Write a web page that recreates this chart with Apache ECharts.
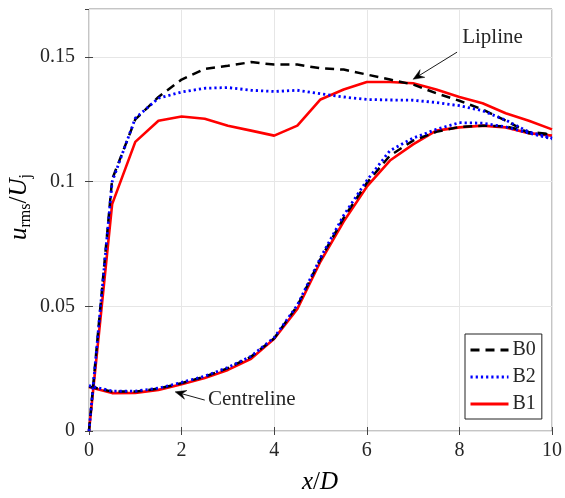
<!DOCTYPE html>
<html><head><meta charset="utf-8">
<script src="https://cdn.jsdelivr.net/npm/echarts@6/dist/echarts.min.js"></script>
<style>html,body{margin:0;padding:0;background:#fff}#c{width:565px;height:498px}</style>
</head><body><div id="c"></div>
<script>
// ---- data ----
const xs = [0,0.5,1,1.5,2,2.5,3,3.5,4,4.5,5,5.5,6,6.5,7,7.5,8,8.5,9,9.5,10];
const b0Lip = [0,0.101,0.125,0.134,0.141,0.1453,0.1465,0.148,0.147,0.147,0.1455,0.145,0.143,0.141,0.139,0.1355,0.1325,0.129,0.1245,0.1195,0.119];
const b2Lip = [0,0.100,0.1255,0.1335,0.136,0.1375,0.1378,0.1367,0.1362,0.1367,0.1353,0.134,0.133,0.1328,0.1327,0.1318,0.1305,0.1285,0.1247,0.12,0.1175];
const b1Lip = [0,0.091,0.116,0.1245,0.1262,0.1253,0.1225,0.1205,0.1185,0.1225,0.133,0.137,0.14,0.14,0.1395,0.137,0.134,0.1315,0.1275,0.1245,0.121];
const b0Cen = [0.0178,0.0158,0.0158,0.017,0.0192,0.0218,0.0252,0.0298,0.0372,0.0502,0.069,0.0855,0.0995,0.1105,0.1165,0.12,0.122,0.1225,0.1222,0.12,0.119];
const b2Cen = [0.0182,0.016,0.016,0.0172,0.0195,0.022,0.0255,0.030,0.0375,0.0505,0.0695,0.0865,0.1005,0.1125,0.1175,0.121,0.1237,0.1235,0.122,0.1195,0.1172];
const b1Cen = [0.0177,0.0152,0.0153,0.0165,0.0188,0.0213,0.0245,0.029,0.037,0.049,0.068,0.084,0.098,0.1085,0.115,0.1205,0.1218,0.1225,0.1218,0.1195,0.1185];
const legendNames = ['B0','B2','B1'];
const xTicks = [0,2,4,6,8,10];
const yTicks = [0,0.05,0.1,0.15];

const pairs = (ys) => xs.map((x,i)=>[x, ys[i]]);
const FONT = '"Liberation Serif", "Times New Roman", serif';
const TXT = '#262626';

const styles = {
  B0: {color:'#000000', type:[9,6], width:2.5},
  B2: {color:'#0000ff', type:[2.2,3], width:2.8},
  B1: {color:'#ff0000', type:'solid', width:2.6}
};
function mk(name, ys, z){
  return {name, type:'line', data:pairs(ys), showSymbol:false, symbol:'none', z,
    lineStyle:styles[name], itemStyle:{color:styles[name].color}, animation:false};
}

const chart = echarts.init(document.getElementById('c'), null, {renderer:'canvas'});
const axisCommon = {
  axisLine:{show:false},
  axisTick:{show:true, inside:true, length:4, lineStyle:{color:'#444', width:1}},
  splitLine:{show:true, lineStyle:{color:'#e6e6e6', width:1}},
  axisLabel:{fontFamily:FONT, fontSize:20, color:TXT}
};
chart.setOption({
  animation:false,
  grid:{left:89, top:9, right:13, bottom:67, show:true, borderColor:'#8a8a8a', borderWidth:1, backgroundColor:'transparent'},
  xAxis:[
    Object.assign({}, axisCommon, {type:'value', min:0, max:10, interval:2,
      axisLabel:Object.assign({}, axisCommon.axisLabel, {margin:10})}),
    {type:'value', position:'top', min:0, max:10, interval:2, axisLine:{show:false}, axisLabel:{show:false},
      splitLine:{show:false}, axisTick:{show:true, inside:true, length:4, lineStyle:{color:'#444'}}}
  ],
  yAxis:[
    Object.assign({}, axisCommon, {type:'value', min:0, max:0.1693, interval:0.05,
      axisLabel:Object.assign({}, axisCommon.axisLabel, {margin:14, showMaxLabel:false,
        formatter:(v)=> yTicks.some(t=>Math.abs(t-v)<1e-9) ? String(+v.toFixed(2)) : ''})}),
    {type:'value', position:'right', min:0, max:0.1693, interval:0.05, axisLine:{show:false}, axisLabel:{show:false},
      splitLine:{show:false}, axisTick:{show:true, inside:true, length:4, lineStyle:{color:'#444'}}}
  ],
  legend:{
    data:legendNames, orient:'vertical', left:465, top:334,
    backgroundColor:'#fff', borderColor:'#222', borderWidth:1, borderRadius:0,
    padding:[6,6,5,4], itemGap:7, itemWidth:38, itemHeight:14,
    itemStyle:{opacity:0},
    lineStyle:{width:3},
    textStyle:{fontFamily:FONT, fontSize:20, color:TXT, padding:[0,0,0,-1]}
  },
  series:[
    mk('B1', b1Lip, 2), mk('B1', b1Cen, 2),
    mk('B0', b0Lip, 3), mk('B0', b0Cen, 3),
    mk('B2', b2Lip, 4), mk('B2', b2Cen, 4)
  ]
});

// annotations placed in data coordinates
function P(x,y){ return chart.convertToPixel({xAxisIndex:0, yAxisIndex:0}, [x,y]); }
function arrow(from, to){
  const a = P(from[0],from[1]), b = P(to[0],to[1]);
  const dx=b[0]-a[0], dy=b[1]-a[1], L=Math.hypot(dx,dy), ux=dx/L, uy=dy/L;
  const px=-uy, py=ux, h=11, w=4.5, n=7;
  const base=[b[0]-ux*h, b[1]-uy*h], notch=[b[0]-ux*n, b[1]-uy*n];
  return [
    {type:'line', shape:{x1:a[0],y1:a[1],x2:notch[0],y2:notch[1]}, style:{stroke:'#000', lineWidth:0.9}, z:50},
    {type:'polygon', shape:{points:[b,[base[0]+px*w, base[1]+py*w], notch, [base[0]-px*w, base[1]-py*w]]},
      style:{fill:'#000', stroke:'#000', lineWidth:0.5}, z:50}
  ];
}
const lipT = P(8.06, 0.1578), cenT = P(2.57, 0.0128);
const g = [
  ...arrow([7.95,0.152],[7.0,0.1411]),
  ...arrow([2.5,0.0124],[1.86,0.0157]),
  {type:'text', x:lipT[0], y:lipT[1], style:{text:'Lipline', font:'21px '+FONT, fill:TXT, textVerticalAlign:'middle', textAlign:'left'}, z:50},
  {type:'text', x:cenT[0], y:cenT[1], style:{text:'Centreline', font:'21px '+FONT, fill:TXT, textVerticalAlign:'middle', textAlign:'left'}, z:50},
  {type:'text', x:320, y:482, style:{
    text:'{i|x}{n|/}{i|D}', textAlign:'center', textVerticalAlign:'middle',
    rich:{i:{fontFamily:FONT, fontStyle:'italic', fontSize:25, color:TXT}, n:{fontFamily:FONT, fontSize:25, color:TXT}}
  }, z:50},
  {type:'text', x:19, y:207, rotation:Math.PI/2, style:{
    text:'{i|u}{s|rms}{n|/}{i|U}{s|j}', textAlign:'center', textVerticalAlign:'middle',
    rich:{
      i:{fontFamily:FONT, fontStyle:'italic', fontSize:25, color:TXT, lineHeight:30, verticalAlign:'middle'},
      n:{fontFamily:FONT, fontSize:25, color:TXT, lineHeight:30, verticalAlign:'middle'},
      s:{fontFamily:FONT, fontSize:16, color:TXT, lineHeight:16, verticalAlign:'bottom'}
    }
  }, z:50}
];
chart.setOption({graphic:g});
</script></body></html>
